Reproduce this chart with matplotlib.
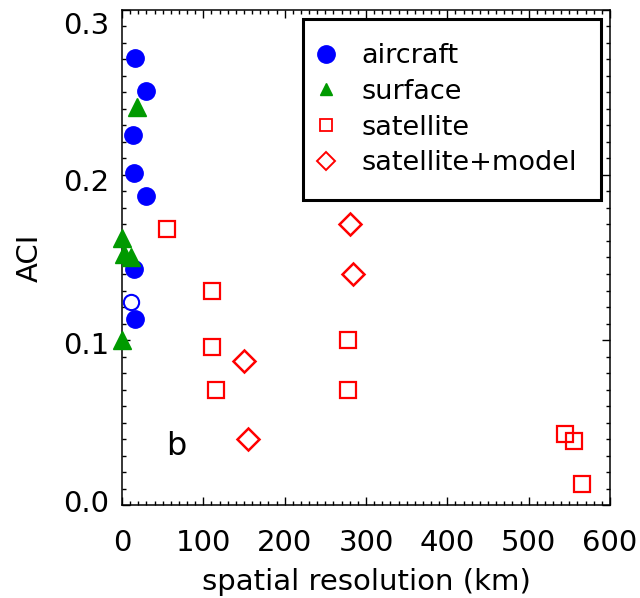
import matplotlib
matplotlib.use("Agg")
import matplotlib.pyplot as plt
from matplotlib.lines import Line2D
from matplotlib.ticker import MultipleLocator
from matplotlib.transforms import ScaledTranslation

plt.rcParams['font.family'] = ['DejaVu Sans']

# Aircraft observations (filled) and one open-symbol aircraft estimate
aircraft_x = [16, 30, 13, 15, 30, 15, 16]
aircraft_y = [0.271, 0.251, 0.224, 0.201, 0.187, 0.143, 0.113]
aircraft_open_x = [11]
aircraft_open_y = [0.123]

# Surface observations
surface_x = [18, 0, 3, 11, 0]
surface_y = [0.241, 0.162, 0.152, 0.150, 0.100]

# Satellite retrievals
satellite_x = [55, 111, 111, 116, 278, 278, 545, 556, 565]
satellite_y = [0.167, 0.130, 0.096, 0.070, 0.100, 0.070, 0.043, 0.039, 0.013]

# Satellite combined with model
satmodel_x = [150, 155, 280, 284]
satmodel_y = [0.087, 0.040, 0.170, 0.140]

legend_labels = ["aircraft", "surface", "satellite", "satellite+model"]

BLUE = "#0000ff"
GREEN = "#009a00"
RED = "#ff0000"

fig = plt.figure(figsize=(6.4, 5.98), dpi=100)
ax = fig.add_axes([0.1906, 0.1555, 0.7625, 0.8278])

ax.plot(aircraft_x, aircraft_y, linestyle="none", marker="o", ms=12.5,
        color=BLUE, mec=BLUE, zorder=3, clip_on=False)
ax.plot(aircraft_open_x, aircraft_open_y, linestyle="none", marker="o", ms=11,
        mfc="white", mec=BLUE, mew=1.5, zorder=3, clip_on=False)
ax.plot(surface_x, surface_y, linestyle="none", marker="^", ms=13,
        color=GREEN, mec=GREEN, zorder=3, clip_on=False)
ax.plot(satellite_x, satellite_y, linestyle="none", marker="s", ms=11,
        mfc="none", mec=RED, mew=1.6, zorder=3)
ax.plot(satmodel_x, satmodel_y, linestyle="none", marker="D", ms=11,
        mfc="none", mec=RED, mew=1.8, zorder=3)

ax.text(67, 0.0353, "b", fontsize=23, ha="center", va="center")

ax.set_xlim(0, 600)
ax.set_ylim(0, 0.3)
ax.xaxis.set_major_locator(MultipleLocator(100))
ax.xaxis.set_minor_locator(MultipleLocator(10))
ax.yaxis.set_major_locator(MultipleLocator(0.1))
ax.yaxis.set_minor_locator(MultipleLocator(0.01))
ax.xaxis.set_major_formatter(plt.FuncFormatter(lambda v, p: f"{v:.0f}"))
ax.yaxis.set_major_formatter(plt.FuncFormatter(lambda v, p: f"{v:.1f}"))

ax.tick_params(which="both", direction="in", top=True, right=True,
               width=1.0, labelsize=21)
ax.tick_params(which="major", length=6)
ax.tick_params(which="minor", length=3)
ax.tick_params(axis="x", which="major", pad=17)
ax.tick_params(axis="y", which="major", pad=9)
for s in ax.spines.values():
    s.set_linewidth(1.1)

ax.set_xlabel("spatial resolution (km)", fontsize=21, labelpad=8)
ax.set_ylabel("ACI", fontsize=21, labelpad=14)

# vertical nudges (in points) for the y tick labels
y_label_shift = {0.0: 3.0, 0.1: -2.0, 0.2: -3.5, 0.3: -9.5}
fig.canvas.draw()
for tick in ax.yaxis.get_major_ticks():
    v = round(tick.get_loc(), 2)
    if v in y_label_shift:
        lab = tick.label1
        lab.set_transform(lab.get_transform() +
                          ScaledTranslation(0, y_label_shift[v] / 72, fig.dpi_scale_trans))

handles = [
    Line2D([], [], linestyle="none", marker="o", ms=12.5, color=BLUE),
    Line2D([], [], linestyle="none", marker="^", ms=9, color=GREEN),
    Line2D([], [], linestyle="none", marker="s", ms=8.5, mfc="none", mec=RED, mew=1.3),
    Line2D([], [], linestyle="none", marker="D", ms=9.5, mfc="none", mec=RED, mew=1.4),
]
leg = ax.legend(handles, legend_labels, loc="upper left",
                bbox_to_anchor=(0.370, 0.981, 0.611, 0.0), mode="expand",
                borderaxespad=0, fontsize=19.5, frameon=True, fancybox=False,
                borderpad=0.88, labelspacing=0.36, handlelength=0.0,
                handletextpad=1.3)
frame = leg.get_frame()
frame.set_edgecolor("black")
frame.set_linewidth(2.2)
frame.set_alpha(1)

fig.savefig("out.png", dpi=100)
